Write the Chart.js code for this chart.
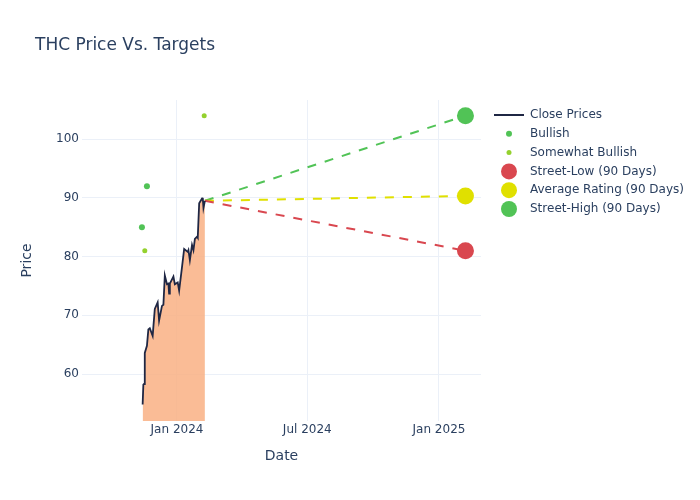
<!DOCTYPE html>
<html>
<head>
<meta charset="utf-8">
<title>THC Price Vs. Targets</title>
<script src="https://cdn.jsdelivr.net/npm/chart.js@4.4.1/dist/chart.umd.min.js"></script>
<style>
  body { margin: 0; background: #fff; }
  #chart { display: block; }
</style>
</head>
<body>
<canvas id="chart" width="700" height="500"></canvas>
<script>
// ===== Data =====
const closeDates = [
  "2023-11-14","2023-11-15","2023-11-16","2023-11-17","2023-11-20","2023-11-22",
  "2023-11-24","2023-11-28","2023-12-01","2023-12-05","2023-12-07","2023-12-11",
  "2023-12-13","2023-12-15","2023-12-18","2023-12-20","2023-12-21","2023-12-22",
  "2023-12-27","2023-12-29","2024-01-02","2024-01-04","2024-01-08","2024-01-11",
  "2024-01-16","2024-01-17","2024-01-19","2024-01-22","2024-01-24","2024-01-26",
  "2024-01-29","2024-01-30","2024-02-01","2024-02-05","2024-02-06","2024-02-07",
  "2024-02-09"
];
const closePrices = [
  54.8, 58.2, 58.3, 63.6, 64.8, 67.6,
  67.8, 66.5, 71.1, 72.2, 69.1, 71.6,
  71.8, 76.8, 75.3, 75.4, 73.7, 75.4,
  76.6, 75.3, 75.6, 74.2, 78.2, 81.3,
  80.8, 81.1, 79.4, 82.0, 81.1, 83.0,
  83.4, 83.2, 89.1, 89.9, 90.0, 88.3,
  89.5
];

const bullishDates = ["2023-11-13", "2023-11-20"];
const bullishTargets = [85, 92];
const somewhatBullishDates = ["2023-11-17", "2024-02-08"];
const somewhatBullishTargets = [81, 104];

const targetDate = "2025-02-07";
const streetLow = 81;
const averageRating = 90.33;
const streetHigh = 104;

const xTickDates = ["2024-01-01", "2024-07-01", "2025-01-01"];
const xTickLabels = ["Jan 2024", "Jul 2024", "Jan 2025"];
const yTicks = [60, 70, 80, 90, 100];

// ===== Colors =====
const navy = "#1f2744";
const green = "#51c356";
const lightGreen = "#94d12e";
const red = "#d9474f";
const yellow = "#e0e000";
const textColor = "#2a3f5f";
const gridColor = "#ebf0f8";

// ===== Helpers =====
const pts = (dates, values) => dates.map((d, i) => ({ x: Date.parse(d), y: values[i] }));

const lastClose = { x: Date.parse(closeDates[closeDates.length - 1]), y: closePrices[closePrices.length - 1] };
const targetLine = value => [lastClose, { x: Date.parse(targetDate), y: value }];

// ===== Legend (drawn at the right, outside the plot) =====
const legendPlugin = {
  id: "sideLegend",
  afterDraw(chart) {
    const ctx = chart.ctx;
    const items = chart.data.datasets.slice(0, 6);
    ctx.save();
    ctx.font = "12px 'DejaVu Sans', sans-serif";
    ctx.textBaseline = "middle";
    ctx.textAlign = "left";
    items.forEach((ds, i) => {
      const y = 115 + i * 18.8;
      if (ds.showLine) {
        ctx.strokeStyle = ds.borderColor;
        ctx.lineWidth = 2;
        ctx.beginPath();
        ctx.moveTo(494, y);
        ctx.lineTo(524, y);
        ctx.stroke();
      } else {
        ctx.fillStyle = ds.backgroundColor;
        ctx.beginPath();
        ctx.arc(509, y, ds.pointRadius > 5 ? 8 : ds.pointRadius, 0, Math.PI * 2);
        ctx.fill();
      }
      ctx.fillStyle = textColor;
      ctx.fillText(ds.label, 530, y);
    });
    ctx.restore();
  }
};

Chart.defaults.font.family = "'DejaVu Sans', sans-serif";
Chart.defaults.color = textColor;

// ===== Chart =====
new Chart(document.getElementById("chart"), {
  type: "scatter",
  data: {
    datasets: [
      {
        label: "Close Prices",
        data: pts(closeDates, closePrices),
        showLine: true,
        borderColor: navy,
        borderWidth: 1.8,
        backgroundColor: "rgba(249,176,132,0.85)",
        fill: "start",
        pointRadius: 0,
        tension: 0
      },
      {
        label: "Bullish",
        data: pts(bullishDates, bullishTargets),
        backgroundColor: green,
        borderWidth: 0,
        pointRadius: 3
      },
      {
        label: "Somewhat Bullish",
        data: pts(somewhatBullishDates, somewhatBullishTargets),
        backgroundColor: lightGreen,
        borderWidth: 0,
        pointRadius: 2.5
      },
      {
        label: "Street-Low (90 Days)",
        data: [{ x: Date.parse(targetDate), y: streetLow }],
        backgroundColor: red,
        borderWidth: 0,
        pointRadius: 8.5
      },
      {
        label: "Average Rating (90 Days)",
        data: [{ x: Date.parse(targetDate), y: averageRating }],
        backgroundColor: yellow,
        borderWidth: 0,
        pointRadius: 8.5
      },
      {
        label: "Street-High (90 Days)",
        data: [{ x: Date.parse(targetDate), y: streetHigh }],
        backgroundColor: green,
        borderWidth: 0,
        pointRadius: 8.5
      },
      {
        label: "low-line",
        data: targetLine(streetLow),
        showLine: true,
        borderColor: red,
        borderWidth: 2,
        borderDash: [9, 9],
        pointRadius: 0,
        order: 1
      },
      {
        label: "avg-line",
        data: targetLine(averageRating),
        showLine: true,
        borderColor: yellow,
        borderWidth: 2,
        borderDash: [9, 9],
        pointRadius: 0,
        order: 1
      },
      {
        label: "high-line",
        data: targetLine(streetHigh),
        showLine: true,
        borderColor: green,
        borderWidth: 2,
        borderDash: [9, 9],
        pointRadius: 0,
        order: 1
      }
    ]
  },
  options: {
    responsive: false,
    animation: false,
    devicePixelRatio: 1,
    layout: { padding: { left: 35, right: 219, top: 0, bottom: 35.6 } },
    scales: {
      x: {
        type: "linear",
        min: Date.parse("2023-08-21T07:00:00Z"),
        max: Date.parse("2025-02-28T17:00:00Z"),
        afterBuildTicks: s => { s.ticks = xTickDates.map(d => ({ value: Date.parse(d) })); },
        ticks: {
          padding: 2,
          maxRotation: 0,
          font: { size: 12 },
          color: textColor,
          callback: (v, i) => xTickLabels[i]
        },
        grid: { color: gridColor, drawTicks: false },
        border: { display: false },
        title: { display: true, text: "Date", font: { size: 14 }, color: textColor, padding: { top: 8.2, bottom: 0 } }
      },
      y: {
        min: 52,
        max: 106.67,
        afterBuildTicks: s => { s.ticks = yTicks.map(v => ({ value: v })); },
        afterFit: s => { s.width = 47; },
        ticks: { padding: 3, font: { size: 12 }, color: textColor },
        grid: { color: gridColor, drawTicks: false },
        border: { display: false },
        title: { display: true, text: "Price", font: { size: 14 }, color: textColor, padding: { top: -16.4, bottom: 0 } }
      }
    },
    plugins: {
      title: {
        display: true,
        text: "THC Price Vs. Targets",
        align: "start",
        color: textColor,
        font: { size: 17, weight: "normal" },
        padding: { top: 35.3, bottom: 44.3 }
      },
      legend: { display: false },
      tooltip: { enabled: false }
    }
  },
  plugins: [legendPlugin]
});
</script>
</body>
</html>
